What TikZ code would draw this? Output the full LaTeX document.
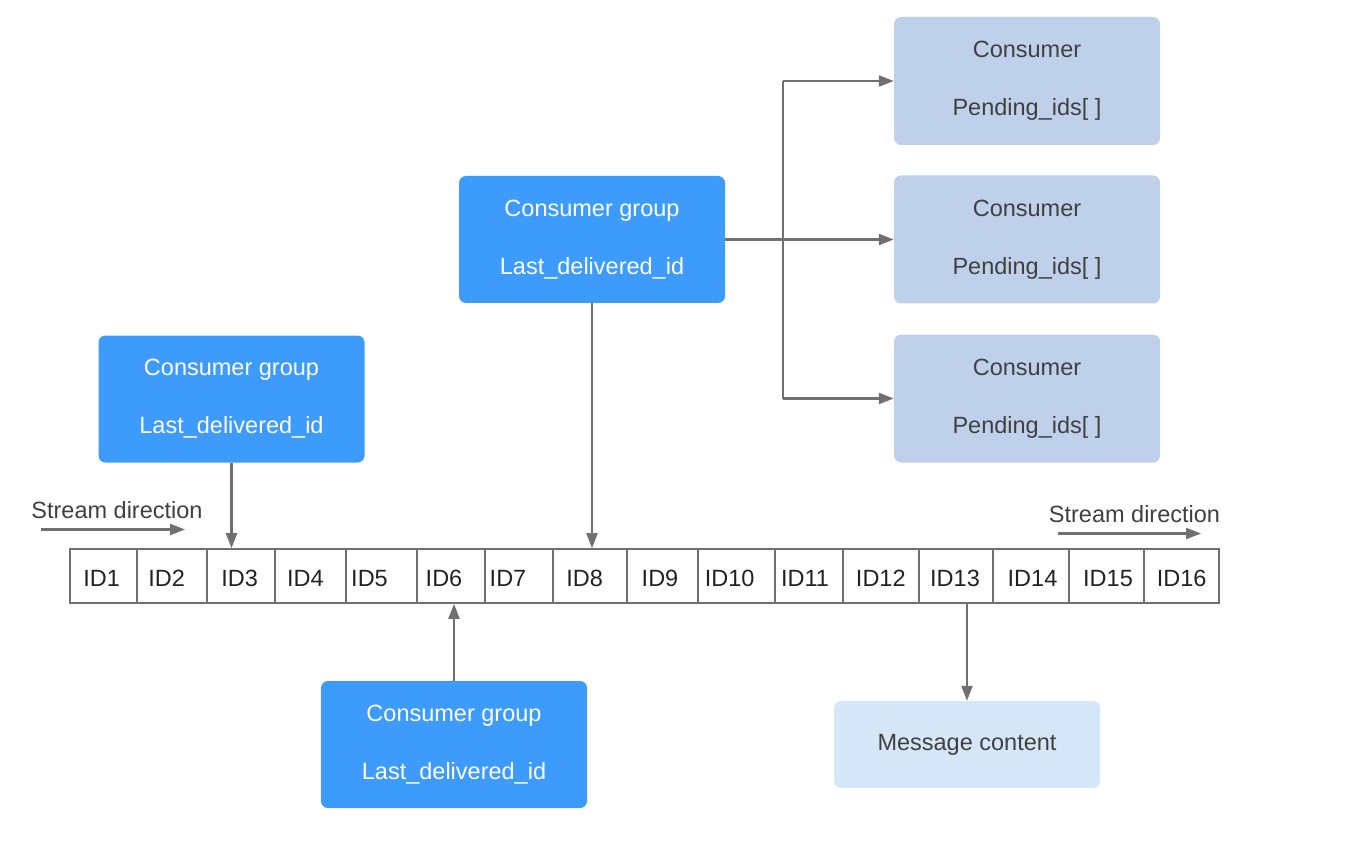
\documentclass[tikz,border=0pt]{standalone}
\usepackage{fontspec}
\setmainfont{Liberation Sans}
\usetikzlibrary{arrows.meta}
\definecolor{grpblue}{HTML}{3D9BFC}
\definecolor{consfill}{HTML}{BFD1EA}
\definecolor{msgfill}{HTML}{D5E6F7}
\definecolor{linegray}{HTML}{707070}
\definecolor{txtgray}{HTML}{404040}
\definecolor{celltxt}{HTML}{222222}
\begin{document}
\begin{tikzpicture}[x=1pt,y=-1pt,
  every node/.style={font=\fontsize{23.5}{58}\selectfont},
  grpbox/.style={fill=grpblue, rounded corners=7pt, minimum width=266pt, minimum height=127pt, inner sep=0pt, align=center, text=white},
  consbox/.style={fill=consfill, rounded corners=7pt, minimum width=266pt, minimum height=128pt, inner sep=0pt, align=center, text=txtgray},
  msgbox/.style={fill=msgfill, rounded corners=7pt, minimum width=266pt, minimum height=87pt, inner sep=0pt, align=center, text=txtgray},
  cellbox/.style={draw=linegray, line width=1.6pt, minimum height=54pt, inner sep=0pt},
  idtext/.style={text=celltxt, inner sep=0pt, anchor=base},
  streamtext/.style={text=txtgray, inner sep=0pt, anchor=base},
  conn/.style={draw=linegray, line width=2.2pt},
  arr/.style={conn, -{Triangle[length=15pt,width=11pt]}}
]
\useasboundingbox (0,0) rectangle (1352,842);

% ID cells
\foreach \i/\l/\r/\t in {1/70/137/101.7, 2/137/207/166.7, 3/207/275/239.7, 4/275/346/305.3,
  5/346/417/369.5, 6/417/485/444, 7/485/553/508, 8/553/627/584.7, 9/627/698/660,
  10/698/775/729.7, 11/775/843/805, 12/843/919/880.8, 13/919/993/955, 14/993/1069/1032.5,
  15/1069/1144/1108, 16/1144/1219/1181.7} {
  \pgfmathsetmacro{\cx}{(\l+\r)/2}
  \pgfmathsetmacro{\w}{\r-\l}
  \node[cellbox, minimum width=\w pt] (c\i) at (\cx,576) {};
  \node[idtext] (t\i) at (\t,586.5) {ID\i};
}

% consumer groups
\node[grpbox] (g1) at (592,239.5) {Consumer group\\Last\_delivered\_id};
\node[grpbox] (g2) at (231.5,399) {Consumer group\\Last\_delivered\_id};
\node[grpbox] (g3) at (454,744.5) {Consumer group\\Last\_delivered\_id};

% consumers
\node[consbox] (k1) at (1027,81) {Consumer\\Pending\_ids[ ]};
\node[consbox] (k2) at (1027,239.5) {Consumer\\Pending\_ids[ ]};
\node[consbox] (k3) at (1027,398.5) {Consumer\\Pending\_ids[ ]};

% message content
\node[msgbox] (m) at (967,744.5) {Message content};

% stream direction labels
\node[streamtext] (s1) at (117,518.5) {Stream direction};
\node[streamtext] (s2) at (1134.5,522) {Stream direction};
\coordinate (s1a) at (41,529.5);
\coordinate (s1b) at (185,529.5);
\coordinate (s2a) at (1058,533.5);
\coordinate (s2b) at (1201,533.5);
\draw[arr] (s1a) -- (s1b);
\draw[arr] (s2a) -- (s2b);

% connectors
\draw[arr] (g1.south) -- (g1.south |- c8.north);
\draw[arr] (g2.south) -- (g2.south |- c3.north);
\draw[arr] (g3.north) -- (g3.north |- c6.south);
\draw[arr] (m.north |- c13.south) -- (m.north);

\coordinate (br) at (783,239.5);
\draw[conn, line width=2.8pt] (g1.east) -- (br);
\draw[conn] (br |- k1.west) -- (br |- k3.west);
\draw[arr] (br |- k1.west) -- (k1.west);
\draw[arr] (br |- k2.west) -- (k2.west);
\draw[arr] (br |- k3.west) -- (k3.west);
\end{tikzpicture}
\end{document}
